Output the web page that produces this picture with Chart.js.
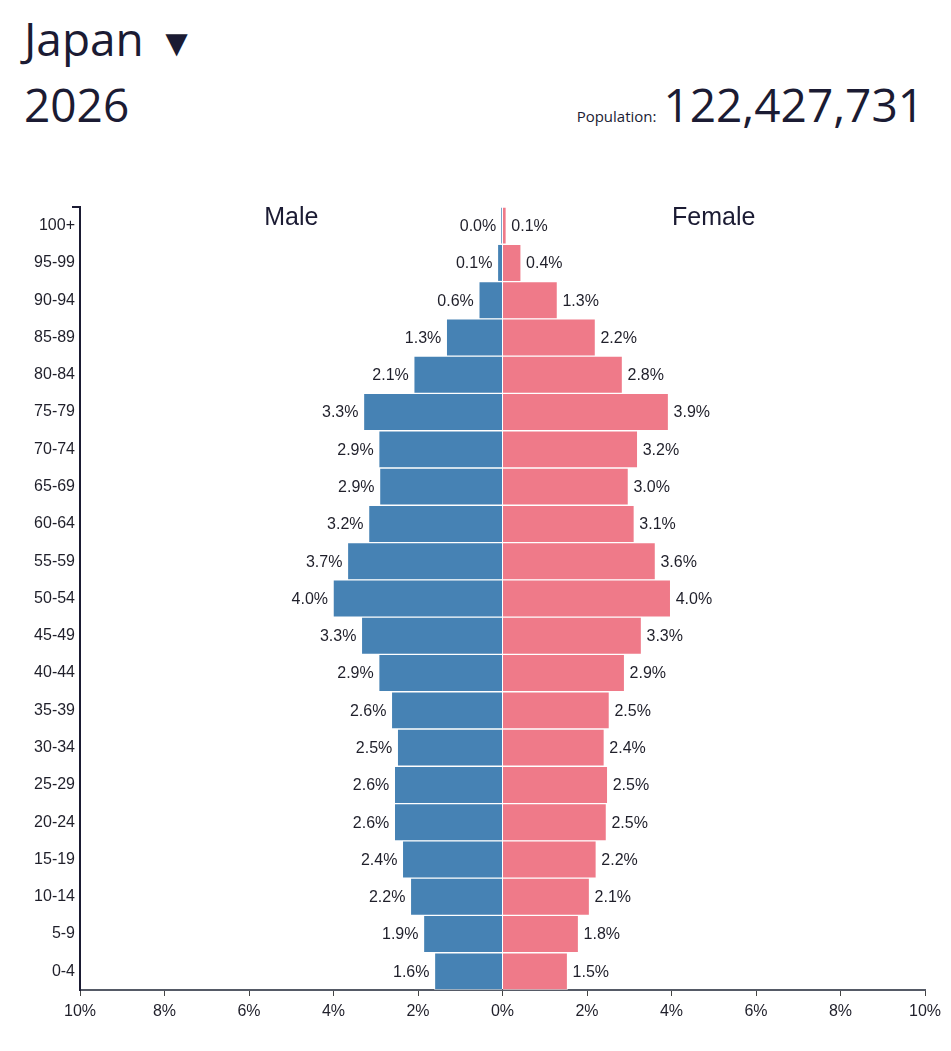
<!DOCTYPE html>
<html>
<head>
<meta charset="utf-8">
<script src="https://cdn.jsdelivr.net/npm/chart.js@4.4.1/dist/chart.umd.min.js"></script>
<style>
	html, body { margin: 0; padding: 0; background: #fff; }
	body { width: 951px; height: 1051px; position: relative; overflow: hidden; font-family: "Open Sans", "Noto Sans", sans-serif; color: #1b1b33; }
	#country { position: absolute; left: 24px; top: 8px; font-size: 46px; line-height: 60px; }
	#country .arrow { font-size: 38px; vertical-align: 0px; margin-left: 14px; }
	#year { position: absolute; left: 24px; top: 74px; font-size: 46px; line-height: 60px; }
	#pop { position: absolute; right: 27px; top: 74px; font-size: 46px; line-height: 60px; white-space: nowrap; }
	#pop small { font-size: 15px; margin-right: 7px; }
	#wrap { position: absolute; left: 0; top: 150px; width: 951px; height: 890px; }
</style>
</head>
<body>
<div id="country">Japan<span class="arrow">&#9660;</span></div>
<div id="year">2026</div>
<div id="pop"><small>Population:</small>122,427,731</div>
<div id="wrap"><canvas id="pyramid"></canvas></div>
<script>
// leeftijdsgroepen, van boven naar beneden
const ageGroups = ["100+", "95-99", "90-94", "85-89", "80-84", "75-79", "70-74", "65-69", "60-64", "55-59", "50-54",
	"45-49", "40-44", "35-39", "30-34", "25-29", "20-24", "15-19", "10-14", "5-9", "0-4"];
// aandeel van de totale bevolking in %
const maleValues = [0.03, 0.12, 0.56, 1.33, 2.1, 3.29, 2.93, 2.91, 3.17, 3.67, 4.01,
	3.34, 2.93, 2.63, 2.49, 2.56, 2.56, 2.37, 2.18, 1.87, 1.61];
const femaleValues = [0.09, 0.44, 1.3, 2.2, 2.84, 3.93, 3.2, 2.98, 3.12, 3.62, 3.98,
	3.29, 2.89, 2.53, 2.41, 2.49, 2.46, 2.22, 2.06, 1.8, 1.54];
const xTicks = [-10, -8, -6, -4, -2, 0, 2, 4, 6, 8, 10];
const sideLabels = { male: "Male", female: "Female" };

const textColor = "#1f1f2a";
const fontFamily = "'Liberation Sans', Arial, sans-serif";
const tickFont = { family: fontFamily, size: 16 };

// plugin voor de waarden naast de balken en de titels Male / Female
const labelPlugin = {
	id: "pyramidLabels",
	afterDatasetsDraw(chart) {
		const ctx = chart.ctx;
		const xs = chart.scales.x;
		const area = chart.chartArea;
		ctx.save();
		ctx.font = "16px " + fontFamily;
		ctx.fillStyle = textColor;
		ctx.textBaseline = "middle";
		chart.data.datasets.forEach((ds, di) => {
			chart.getDatasetMeta(di).data.forEach((bar, i) => {
				const v = Math.abs(ds.data[i]);
				const txt = v.toFixed(1) + "%";
				if (di === 0) {
					ctx.textAlign = "right";
					ctx.fillText(txt, bar.x - 5, bar.y + 1);
				} else {
					ctx.textAlign = "left";
					ctx.fillText(txt, bar.x + 5, bar.y + 1);
				}
			});
		});
		ctx.font = "25px " + fontFamily;
		ctx.fillStyle = "#1b1b33";
		ctx.textAlign = "center";
		ctx.fillText(sideLabels.male, xs.getPixelForValue(-5), area.top + 11);
		ctx.fillText(sideLabels.female, xs.getPixelForValue(5), area.top + 11);
		// buitenste tick bovenaan de y-as
		ctx.strokeStyle = "#1b1b33";
		ctx.lineWidth = 2;
		ctx.beginPath();
		ctx.moveTo(area.left - 8, area.top);
		ctx.lineTo(area.left, area.top);
		ctx.stroke();
		ctx.restore();
	}
};

new Chart(document.getElementById("pyramid"), {
	type: "bar",
	data: {
		labels: ageGroups,
		datasets: [
			{
				label: sideLabels.male,
				data: maleValues.map((v) => -v),
				backgroundColor: "#4682b4",
				borderColor: "rgba(255,255,255,0.6)",
				borderWidth: 1,
				barPercentage: 1,
				categoryPercentage: 1,
			},
			{
				label: sideLabels.female,
				data: femaleValues,
				backgroundColor: "#ef7a89",
				borderColor: "rgba(255,255,255,0.6)",
				borderWidth: 1,
				barPercentage: 1,
				categoryPercentage: 1,
			},
		],
	},
	options: {
		indexAxis: "y",
		responsive: true,
		maintainAspectRatio: false,
		animation: false,
		layout: { padding: { top: 57, right: 26, bottom: 16, left: 0 } },
		plugins: { legend: { display: false }, tooltip: { enabled: false } },
		scales: {
			x: {
				min: -10,
				max: 10,
				afterBuildTicks: (scale) => { scale.ticks = xTicks.map((v) => ({ value: v })); },
				afterFit: (scale) => { scale.height = 34; },
				ticks: {
					callback: (v) => Math.abs(v) + "%",
					color: textColor,
					font: tickFont,
					padding: 6,
					maxRotation: 0,
				},
				grid: { drawOnChartArea: false, drawTicks: true, tickLength: 6, color: "#444", lineWidth: 1 },
				border: { display: true, color: "#555a66", width: 2 },
			},
			y: {
				stacked: true,
				afterFit: (scale) => { scale.width = 80; },
				ticks: { color: textColor, font: tickFont, padding: 5 },
				grid: { display: false, drawTicks: false },
				border: { display: true, color: "#1b1b33", width: 2 },
			},
		},
	},
	plugins: [labelPlugin],
});
</script>
</body>
</html>
